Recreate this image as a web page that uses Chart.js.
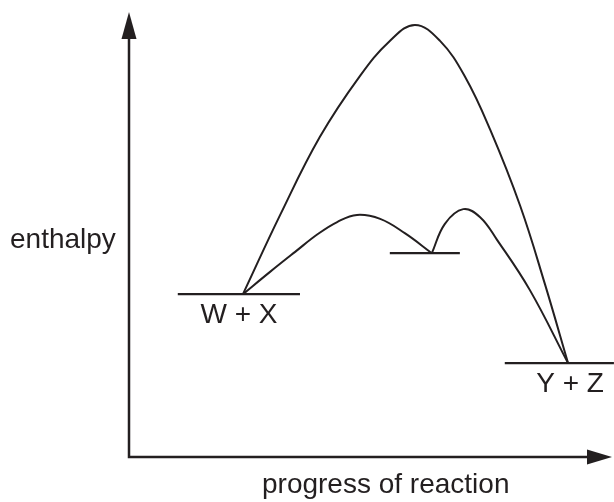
<!DOCTYPE html>
<html>
<head>
<meta charset="utf-8">
<script src="https://cdn.jsdelivr.net/npm/chart.js@4/dist/chart.umd.min.js"></script>
<style>
  html, body { margin: 0; padding: 0; background: #fff; }
  #wrap { position: relative; width: 614px; height: 502px; }
</style>
</head>
<body>
<div id="wrap"><canvas id="myChart"></canvas></div>
<script>
// enthalpy levels of the species (progress 0-100, enthalpy 0-100)
const levelNames = ['W + X', '', 'Y + Z'];
const levelEnthalpy = [36.6, 45.8, 21.1];
const levelFrom = [10.1, 54.0, 77.8];
const levelTo = [35.4, 68.5, 100.4];

// uncatalysed path
const pathAX = [23.6, 31.3, 39.5, 47.8, 54.0, 59.2, 64.4, 69.6, 74.8, 81.0, 86.1, 90.9];
const pathAY = [36.6, 54.4, 71.9, 85.6, 93.5, 97.1, 93.5, 85.4, 73.5, 56.4, 38.9, 21.1];

// catalysed path, first hump (to intermediate)
const pathB1X = [23.6, 29.2, 34.4, 39.1, 43.1, 47.2, 52.0, 57.1, 62.7];
const pathB1Y = [36.6, 41.6, 46.1, 50.1, 52.8, 54.4, 53.5, 50.3, 45.8];

// catalysed path, second hump (to products)
const pathB2X = [62.7, 65.4, 69.2, 72.7, 76.2, 83.0, 90.9];
const pathB2Y = [45.8, 52.4, 55.7, 53.9, 48.8, 37.5, 21.1];

const xTitle = 'progress of reaction';
const yTitle = 'enthalpy';

const ink = '#231f20';
const font = '28px "Liberation Sans", Arial, Helvetica, sans-serif';

const pts = (xs, ys) => xs.map((x, i) => ({ x: x, y: ys[i] }));

const curve = (xs, ys) => ({
  data: pts(xs, ys),
  showLine: true,
  borderColor: ink,
  borderWidth: 2,
  pointRadius: 0,
  tension: 0.4,
  fill: false,
  clip: false
});

const levels = levelEnthalpy.map((y, i) => ({
  data: [{ x: levelFrom[i], y: y }, { x: levelTo[i], y: y }],
  showLine: true,
  borderColor: ink,
  borderWidth: 2.3,
  pointRadius: 0,
  fill: false,
  clip: false
}));

// axes with arrow heads + labels
const decor = {
  id: 'decor',
  afterDatasetsDraw(chart) {
    const ctx = chart.ctx;
    const xs = chart.scales.x, ys = chart.scales.y;
    const x0 = xs.getPixelForValue(0), x1 = xs.getPixelForValue(100);
    const y0 = ys.getPixelForValue(0), y1 = ys.getPixelForValue(100);
    ctx.save();
    ctx.strokeStyle = ink;
    ctx.fillStyle = ink;
    ctx.lineWidth = 2.5;
    ctx.beginPath();
    ctx.moveTo(x0, y1 + 20);
    ctx.lineTo(x0, y0);
    ctx.lineTo(x1 - 20, y0);
    ctx.stroke();
    // y arrow
    ctx.beginPath();
    ctx.moveTo(x0, y1);
    ctx.lineTo(x0 - 7.5, y1 + 27);
    ctx.lineTo(x0 + 7.5, y1 + 27);
    ctx.closePath();
    ctx.fill();
    // x arrow
    ctx.beginPath();
    ctx.moveTo(x1, y0);
    ctx.lineTo(x1 - 25, y0 - 7.5);
    ctx.lineTo(x1 - 25, y0 + 7.5);
    ctx.closePath();
    ctx.fill();

    ctx.font = font;
    ctx.textBaseline = 'alphabetic';
    ctx.textAlign = 'left';
    ctx.fillText(yTitle, 10, 248);
    ctx.fillText(xTitle, 262, y0 + 36);

    ctx.textAlign = 'center';
    ctx.fillText(levelNames[0], xs.getPixelForValue(pathAX[0]) - 4, ys.getPixelForValue(levelEnthalpy[0]) + 29);
    ctx.fillText(levelNames[2], xs.getPixelForValue(pathAX[pathAX.length - 1]) + 2, ys.getPixelForValue(levelEnthalpy[2]) + 29);
    ctx.restore();
  }
};

new Chart(document.getElementById('myChart'), {
  type: 'scatter',
  data: {
    datasets: [
      curve(pathAX, pathAY),
      curve(pathB1X, pathB1Y),
      curve(pathB2X, pathB2Y)
    ].concat(levels)
  },
  options: {
    responsive: true,
    maintainAspectRatio: false,
    animation: false,
    devicePixelRatio: 1,
    layout: { padding: { left: 129, right: 2, top: 12, bottom: 45 } },
    plugins: { legend: { display: false }, tooltip: { enabled: false } },
    scales: {
      x: { type: 'linear', min: 0, max: 100, display: false },
      y: { type: 'linear', min: 0, max: 100, display: false }
    }
  },
  plugins: [decor]
});
</script>
</body>
</html>
